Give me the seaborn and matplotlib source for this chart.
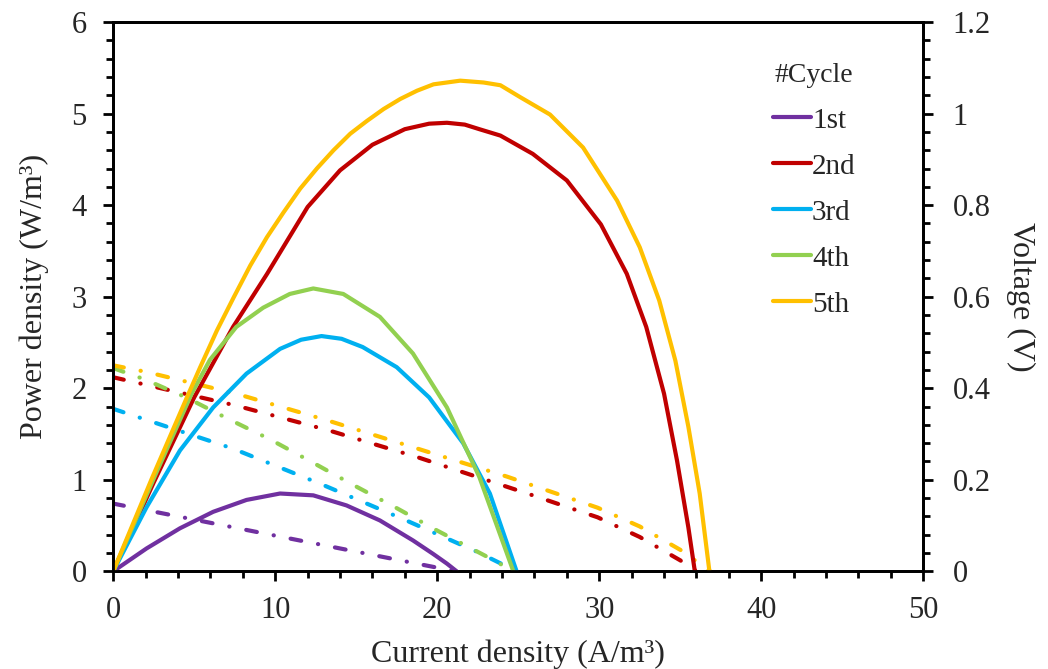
import matplotlib
matplotlib.use("Agg")
import matplotlib.pyplot as plt
import matplotlib.ticker as mticker
import seaborn as sns

# cycle names and colours
cycles = ["1st", "2nd", "3rd", "4th", "5th"]
colors = ["#7030A0", "#C00000", "#00B0F0", "#92D050", "#FFC000"]

# power density curves (W/m3) vs current density (A/m3)
p1_x = [0, 2.06, 4.12, 6.17, 8.23, 10.3, 12.35, 14.4, 16.46, 18.5, 19.75, 20.6, 21.2]
p1_y = [0, 0.25, 0.47, 0.65, 0.78, 0.85, 0.83, 0.72, 0.556, 0.338, 0.19, 0.084, 0]
p2_x = [0, 2.5, 5.0, 7.4, 9.5, 12.0, 14.0, 16.0, 18.0, 19.5, 20.6, 21.7, 22.6, 23.9, 25.9,
        28.0, 30.1, 31.7, 32.9, 34.0, 34.8, 35.5, 35.9]
p2_y = [0, 0.97, 1.90, 2.67, 3.25, 3.98, 4.38, 4.66, 4.83, 4.89, 4.90, 4.88, 4.83, 4.76,
        4.56, 4.27, 3.79, 3.25, 2.67, 1.94, 1.21, 0.48, 0]
p3_x = [0, 2.06, 4.12, 6.17, 8.23, 10.3, 11.6, 12.86, 14.1, 15.4, 17.5, 19.5, 21.6, 23.25, 24.9]
p3_y = [0, 0.70, 1.32, 1.79, 2.16, 2.43, 2.53, 2.57, 2.54, 2.45, 2.23, 1.90, 1.40, 0.85, 0]
p4_x = [0, 2.67, 4.84, 5.97, 7.6, 9.26, 10.9, 12.35, 14.2, 16.46, 18.5, 20.6, 22.6, 24.7]
p4_y = [0, 1.08, 1.94, 2.31, 2.67, 2.88, 3.03, 3.09, 3.03, 2.78, 2.38, 1.79, 1.03, 0]
p5_x = [0, 2.4, 4.55, 5.37, 6.40, 7.43, 8.46, 9.49, 10.51, 11.54, 12.57, 13.60, 14.63,
        15.66, 16.69, 17.72, 18.75, 19.77, 21.42, 22.86, 23.9, 25.12, 26.96, 29.0, 31.1,
        32.5, 33.7, 34.7, 35.5, 36.2, 36.8]
p5_y = [0, 1.02, 1.90, 2.23, 2.63, 2.99, 3.34, 3.65, 3.92, 4.18, 4.40, 4.60, 4.78,
        4.92, 5.05, 5.16, 5.25, 5.32, 5.36, 5.34, 5.31, 5.18, 4.99, 4.63, 4.05,
        3.54, 2.96, 2.30, 1.58, 0.85, 0]

# cell voltage curves (V)
v1_x = [0, 4, 8, 12, 16, 20, 21.0]
v1_y = [0.148, 0.120, 0.092, 0.064, 0.036, 0.008, 0]
v2_x = [0, 7.6, 13.3, 18.9, 25.9, 29.9, 32.5, 35.0, 36.0]
v2_y = [0.424, 0.362, 0.308, 0.248, 0.166, 0.118, 0.075, 0.024, 0]
v3_x = [0, 7.4, 12.8, 18.1, 22.5, 24.9]
v3_y = [0.355, 0.268, 0.191, 0.111, 0.042, 0]
v4_x = [0, 1.9, 4.5, 7.1, 9.7, 12.3, 14.8, 17.4, 20.0, 23.5, 24.7]
v4_y = [0.444, 0.420, 0.380, 0.333, 0.288, 0.238, 0.189, 0.140, 0.089, 0.024, 0]
v5_x = [0, 2.0, 7.6, 13.2, 18.7, 24.3, 27.1, 29.9, 32.5, 35.0, 36.85]
v5_y = [0.450, 0.436, 0.388, 0.330, 0.269, 0.207, 0.173, 0.139, 0.098, 0.047, 0]

power = [(p1_x, p1_y), (p2_x, p2_y), (p3_x, p3_y), (p4_x, p4_y), (p5_x, p5_y)]
voltage = [(v1_x, v1_y), (v2_x, v2_y), (v3_x, v3_y), (v4_x, v4_y), (v5_x, v5_y)]

sns.set_style("ticks")
plt.rcParams['font.family'] = ['Liberation Serif', 'DejaVu Serif']

fig = plt.figure(figsize=(10.48, 6.69), dpi=100)
ax = fig.add_axes([0.108, 0.146, 0.773, 0.821])
ax2 = ax.twinx()

lw = 3.0
for i, name in enumerate(cycles):
    vx, vy = voltage[i]
    sns.lineplot(x=vx, y=vy, ax=ax2, color=colors[i], sort=False, estimator=None)
for i, name in enumerate(cycles):
    px, py = power[i]
    sns.lineplot(x=px, y=py, ax=ax, color=colors[i], sort=False, estimator=None,
                 label=name, legend=False)

# line widths / dash-dot pattern for the voltage curves
for line in ax.get_lines():
    line.set_linewidth(lw)
    line.set_solid_capstyle("round")
for line in ax2.get_lines():
    line.set_linewidth(lw)
    line.set_dash_capstyle("round")
    line.set_linestyle((0, (2.6, 4.1, 0.05, 4.1)))

ax.set_zorder(ax2.get_zorder() + 1)
ax.patch.set_visible(False)

ax.set_xlim(0, 50)
ax.set_ylim(0, 6)
ax2.set_ylim(0, 1.2)
ax.xaxis.set_major_locator(mticker.MultipleLocator(10))
ax.xaxis.set_minor_locator(mticker.MultipleLocator(2))
ax.yaxis.set_major_locator(mticker.MultipleLocator(1))
ax.yaxis.set_minor_locator(mticker.MultipleLocator(0.2))
ax2.yaxis.set_major_locator(mticker.MultipleLocator(0.2))
ax2.yaxis.set_minor_locator(mticker.MultipleLocator(0.04))
ax2.yaxis.set_major_formatter(mticker.FuncFormatter(lambda v, p: f"{v:g}"))

for a in (ax, ax2):
    for s in a.spines.values():
        s.set_linewidth(2.0)
        s.set_color("black")
    a.tick_params(which="major", direction="out", length=7, width=2, labelsize=22, color="black")
    a.tick_params(which="minor", direction="out", length=5, width=2, color="black")
ax.tick_params(axis="x", pad=11)
ax.tick_params(axis="y", pad=12)
ax2.tick_params(axis="y", pad=14)

ax.set_xlabel("Current density (A/m³)", fontsize=23, labelpad=10)
ax.set_ylabel("Power density (W/m³)", fontsize=23, labelpad=16)
ax2.set_ylabel("Voltage (V)", fontsize=23, rotation=270, labelpad=32)

leg = ax.legend(title="#Cycle", frameon=False, loc="upper left",
                bbox_to_anchor=(0.814, 0.926), fontsize=21, title_fontsize=20,
                handlelength=1.3, handletextpad=0.05, labelspacing=0.67, borderpad=0,
                borderaxespad=0)
leg._legend_box.align = "center"
for h in leg.get_lines():
    h.set_linewidth(lw)
    h.set_solid_capstyle("round")

fig.savefig("out.png", dpi=100)
